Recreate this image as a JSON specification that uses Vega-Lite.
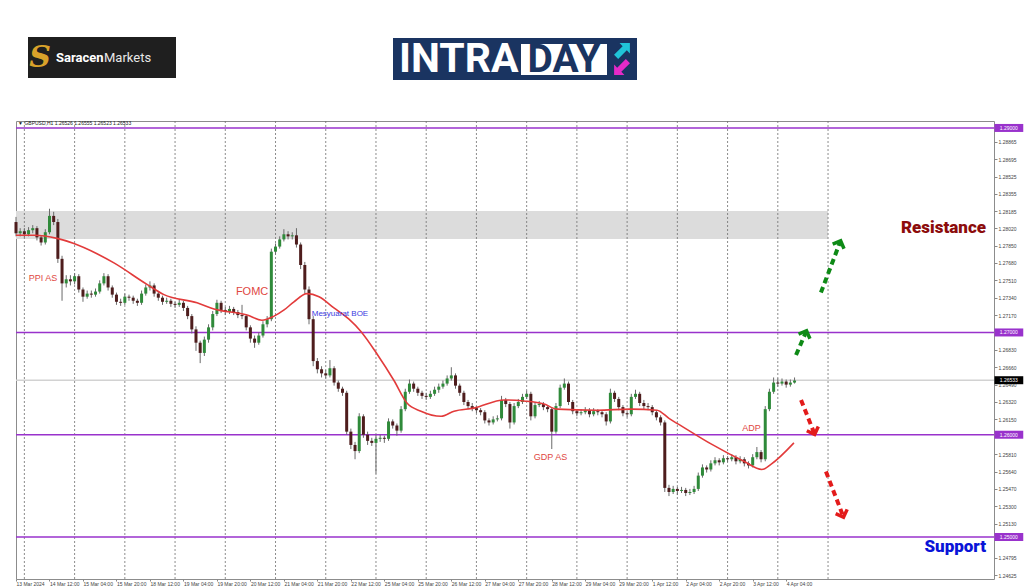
{
"$schema":"https://vega.github.io/schema/vega-lite/v6.json",
"background":"white",
"padding":{"left":12,"top":0,"right":0,"bottom":0},
"spacing":20,
"resolve":{"scale":{"color":"independent","fill":"independent","angle":"independent","x":"independent","y":"independent"}},
"config":{"text":{"font":"Liberation Sans"},"axis":{"grid":false,"domain":false,"labelOverlap":false,"labelSeparation":0,"labelFontSize":5,"labelFont":"Liberation Sans"}},
"datasets":{
"candles":[
{"i":0,"o":1.2808,"h":1.2813,"l":1.2794,"c":1.2797},
{"i":2,"o":1.2797,"h":1.2802,"l":1.2794,"c":1.2799},
{"i":4,"o":1.2799,"h":1.2802,"l":1.2793,"c":1.2796},
{"i":6,"o":1.2796,"h":1.2803,"l":1.2794,"c":1.2800},
{"i":8,"o":1.2800,"h":1.2805,"l":1.2797,"c":1.2802},
{"i":10,"o":1.2802,"h":1.2804,"l":1.2790,"c":1.2793},
{"i":12,"o":1.2793,"h":1.2795,"l":1.2785,"c":1.2788},
{"i":14,"o":1.2788,"h":1.2801,"l":1.2786,"c":1.2798},
{"i":16,"o":1.2798,"h":1.2821,"l":1.2796,"c":1.2814},
{"i":18,"o":1.2814,"h":1.2818,"l":1.2805,"c":1.2808},
{"i":20,"o":1.2808,"h":1.2811,"l":1.2768,"c":1.2772},
{"i":22,"o":1.2772,"h":1.2775,"l":1.2731,"c":1.2748},
{"i":24,"o":1.2748,"h":1.2756,"l":1.2744,"c":1.2752},
{"i":26,"o":1.2752,"h":1.2756,"l":1.2746,"c":1.2750},
{"i":28,"o":1.2750,"h":1.2758,"l":1.2747,"c":1.2755},
{"i":30,"o":1.2755,"h":1.2757,"l":1.2739,"c":1.2742},
{"i":32,"o":1.2742,"h":1.2744,"l":1.2730,"c":1.2735},
{"i":34,"o":1.2735,"h":1.2741,"l":1.2733,"c":1.2738},
{"i":36,"o":1.2738,"h":1.2741,"l":1.2734,"c":1.2737},
{"i":38,"o":1.2737,"h":1.2743,"l":1.2735,"c":1.2740},
{"i":40,"o":1.2740,"h":1.2751,"l":1.2738,"c":1.2748},
{"i":42,"o":1.2748,"h":1.2758,"l":1.2746,"c":1.2755},
{"i":44,"o":1.2755,"h":1.2757,"l":1.2741,"c":1.2744},
{"i":46,"o":1.2744,"h":1.2746,"l":1.2734,"c":1.2737},
{"i":48,"o":1.2737,"h":1.2739,"l":1.2727,"c":1.2730},
{"i":50,"o":1.2730,"h":1.2733,"l":1.2726,"c":1.2729},
{"i":52,"o":1.2729,"h":1.2738,"l":1.2727,"c":1.2735},
{"i":54,"o":1.2735,"h":1.2737,"l":1.2731,"c":1.2734},
{"i":56,"o":1.2734,"h":1.2736,"l":1.2728,"c":1.2731},
{"i":58,"o":1.2731,"h":1.2733,"l":1.2726,"c":1.2729},
{"i":60,"o":1.2729,"h":1.2741,"l":1.2727,"c":1.2738},
{"i":62,"o":1.2738,"h":1.2747,"l":1.2736,"c":1.2744},
{"i":64,"o":1.2744,"h":1.2750,"l":1.2741,"c":1.2746},
{"i":66,"o":1.2746,"h":1.2748,"l":1.2735,"c":1.2738},
{"i":68,"o":1.2738,"h":1.2740,"l":1.2731,"c":1.2734},
{"i":70,"o":1.2734,"h":1.2736,"l":1.2727,"c":1.2730},
{"i":72,"o":1.2730,"h":1.2734,"l":1.2728,"c":1.2731},
{"i":74,"o":1.2731,"h":1.2733,"l":1.2725,"c":1.2728},
{"i":76,"o":1.2728,"h":1.2730,"l":1.2724,"c":1.2727},
{"i":78,"o":1.2727,"h":1.2732,"l":1.2725,"c":1.2729},
{"i":80,"o":1.2729,"h":1.2731,"l":1.2721,"c":1.2724},
{"i":82,"o":1.2724,"h":1.2726,"l":1.2713,"c":1.2716},
{"i":84,"o":1.2716,"h":1.2718,"l":1.2699,"c":1.2703},
{"i":86,"o":1.2703,"h":1.2706,"l":1.2682,"c":1.2690},
{"i":88,"o":1.2690,"h":1.2692,"l":1.2670,"c":1.2680},
{"i":90,"o":1.2680,"h":1.2696,"l":1.2677,"c":1.2693},
{"i":92,"o":1.2693,"h":1.2708,"l":1.2690,"c":1.2705},
{"i":94,"o":1.2705,"h":1.2721,"l":1.2702,"c":1.2718},
{"i":96,"o":1.2718,"h":1.2732,"l":1.2716,"c":1.2729},
{"i":98,"o":1.2729,"h":1.2731,"l":1.2719,"c":1.2722},
{"i":100,"o":1.2722,"h":1.2725,"l":1.2717,"c":1.2720},
{"i":102,"o":1.2720,"h":1.2726,"l":1.2718,"c":1.2723},
{"i":104,"o":1.2723,"h":1.2725,"l":1.2717,"c":1.2720},
{"i":106,"o":1.2720,"h":1.2722,"l":1.2714,"c":1.2717},
{"i":108,"o":1.2717,"h":1.2727,"l":1.2713,"c":1.2716},
{"i":110,"o":1.2716,"h":1.2718,"l":1.2702,"c":1.2705},
{"i":112,"o":1.2705,"h":1.2707,"l":1.2690,"c":1.2694},
{"i":114,"o":1.2694,"h":1.2697,"l":1.2685,"c":1.2690},
{"i":116,"o":1.2690,"h":1.2700,"l":1.2688,"c":1.2697},
{"i":118,"o":1.2697,"h":1.2711,"l":1.2695,"c":1.2708},
{"i":120,"o":1.2708,"h":1.2716,"l":1.2705,"c":1.2713},
{"i":122,"o":1.2713,"h":1.2782,"l":1.2711,"c":1.2779},
{"i":124,"o":1.2779,"h":1.2787,"l":1.2776,"c":1.2784},
{"i":126,"o":1.2784,"h":1.2794,"l":1.2782,"c":1.2791},
{"i":128,"o":1.2791,"h":1.2801,"l":1.2789,"c":1.2796},
{"i":130,"o":1.2796,"h":1.2799,"l":1.2791,"c":1.2794},
{"i":132,"o":1.2794,"h":1.2798,"l":1.2791,"c":1.2795},
{"i":134,"o":1.2795,"h":1.2802,"l":1.2783,"c":1.2786},
{"i":136,"o":1.2786,"h":1.2788,"l":1.2762,"c":1.2766},
{"i":138,"o":1.2766,"h":1.2769,"l":1.2738,"c":1.2742},
{"i":140,"o":1.2742,"h":1.2745,"l":1.2708,"c":1.2713},
{"i":142,"o":1.2713,"h":1.2716,"l":1.2667,"c":1.2672},
{"i":144,"o":1.2672,"h":1.2675,"l":1.2660,"c":1.2664},
{"i":146,"o":1.2664,"h":1.2667,"l":1.2656,"c":1.2660},
{"i":148,"o":1.2660,"h":1.2663,"l":1.2655,"c":1.2658},
{"i":150,"o":1.2658,"h":1.2673,"l":1.2656,"c":1.2665},
{"i":152,"o":1.2665,"h":1.2667,"l":1.2648,"c":1.2651},
{"i":154,"o":1.2651,"h":1.2653,"l":1.2642,"c":1.2645},
{"i":156,"o":1.2645,"h":1.2647,"l":1.2638,"c":1.2641},
{"i":158,"o":1.2641,"h":1.2643,"l":1.2600,"c":1.2603},
{"i":160,"o":1.2603,"h":1.2606,"l":1.2586,"c":1.2590},
{"i":162,"o":1.2590,"h":1.2593,"l":1.2576,"c":1.2584},
{"i":164,"o":1.2584,"h":1.2621,"l":1.2582,"c":1.2618},
{"i":166,"o":1.2618,"h":1.2620,"l":1.2597,"c":1.2600},
{"i":168,"o":1.2600,"h":1.2603,"l":1.2590,"c":1.2594},
{"i":170,"o":1.2594,"h":1.2597,"l":1.2589,"c":1.2592},
{"i":172,"o":1.2592,"h":1.2600,"l":1.2562,"c":1.2596},
{"i":174,"o":1.2596,"h":1.2600,"l":1.2593,"c":1.2597},
{"i":176,"o":1.2597,"h":1.2599,"l":1.2592,"c":1.2596},
{"i":178,"o":1.2596,"h":1.2616,"l":1.2594,"c":1.2613},
{"i":180,"o":1.2613,"h":1.2615,"l":1.2606,"c":1.2609},
{"i":182,"o":1.2609,"h":1.2611,"l":1.2599,"c":1.2604},
{"i":184,"o":1.2604,"h":1.2628,"l":1.2602,"c":1.2625},
{"i":186,"o":1.2625,"h":1.2645,"l":1.2623,"c":1.2642},
{"i":188,"o":1.2642,"h":1.2654,"l":1.2640,"c":1.2650},
{"i":190,"o":1.2650,"h":1.2652,"l":1.2642,"c":1.2645},
{"i":192,"o":1.2645,"h":1.2647,"l":1.2638,"c":1.2641},
{"i":194,"o":1.2641,"h":1.2643,"l":1.2635,"c":1.2638},
{"i":196,"o":1.2638,"h":1.2641,"l":1.2634,"c":1.2637},
{"i":198,"o":1.2637,"h":1.2643,"l":1.2635,"c":1.2640},
{"i":200,"o":1.2640,"h":1.2647,"l":1.2638,"c":1.2644},
{"i":202,"o":1.2644,"h":1.2650,"l":1.2641,"c":1.2647},
{"i":204,"o":1.2647,"h":1.2653,"l":1.2645,"c":1.2650},
{"i":206,"o":1.2650,"h":1.2658,"l":1.2648,"c":1.2655},
{"i":208,"o":1.2655,"h":1.2666,"l":1.2653,"c":1.2658},
{"i":210,"o":1.2658,"h":1.2660,"l":1.2645,"c":1.2648},
{"i":212,"o":1.2648,"h":1.2650,"l":1.2638,"c":1.2641},
{"i":214,"o":1.2641,"h":1.2643,"l":1.2629,"c":1.2632},
{"i":216,"o":1.2632,"h":1.2634,"l":1.2625,"c":1.2628},
{"i":218,"o":1.2628,"h":1.2631,"l":1.2623,"c":1.2626},
{"i":220,"o":1.2626,"h":1.2628,"l":1.2621,"c":1.2624},
{"i":222,"o":1.2624,"h":1.2626,"l":1.2619,"c":1.2622},
{"i":224,"o":1.2622,"h":1.2624,"l":1.2611,"c":1.2614},
{"i":226,"o":1.2614,"h":1.2616,"l":1.2609,"c":1.2612},
{"i":228,"o":1.2612,"h":1.2618,"l":1.2610,"c":1.2615},
{"i":230,"o":1.2615,"h":1.2619,"l":1.2613,"c":1.2616},
{"i":232,"o":1.2616,"h":1.2638,"l":1.2614,"c":1.2634},
{"i":234,"o":1.2634,"h":1.2636,"l":1.2627,"c":1.2630},
{"i":236,"o":1.2630,"h":1.2632,"l":1.2606,"c":1.2612},
{"i":238,"o":1.2612,"h":1.2631,"l":1.2610,"c":1.2628},
{"i":240,"o":1.2628,"h":1.2635,"l":1.2626,"c":1.2632},
{"i":242,"o":1.2632,"h":1.2640,"l":1.2630,"c":1.2637},
{"i":244,"o":1.2637,"h":1.2643,"l":1.2635,"c":1.2640},
{"i":246,"o":1.2640,"h":1.2642,"l":1.2614,"c":1.2618},
{"i":248,"o":1.2618,"h":1.2632,"l":1.2616,"c":1.2629},
{"i":250,"o":1.2629,"h":1.2633,"l":1.2627,"c":1.2630},
{"i":252,"o":1.2630,"h":1.2632,"l":1.2624,"c":1.2627},
{"i":254,"o":1.2627,"h":1.2629,"l":1.2622,"c":1.2625},
{"i":256,"o":1.2625,"h":1.2627,"l":1.2586,"c":1.2603},
{"i":258,"o":1.2603,"h":1.2631,"l":1.2601,"c":1.2628},
{"i":260,"o":1.2628,"h":1.2649,"l":1.2626,"c":1.2646},
{"i":262,"o":1.2646,"h":1.2655,"l":1.2644,"c":1.2650},
{"i":264,"o":1.2650,"h":1.2652,"l":1.2629,"c":1.2632},
{"i":266,"o":1.2632,"h":1.2634,"l":1.2620,"c":1.2623},
{"i":268,"o":1.2623,"h":1.2625,"l":1.2618,"c":1.2621},
{"i":270,"o":1.2621,"h":1.2625,"l":1.2619,"c":1.2622},
{"i":272,"o":1.2622,"h":1.2627,"l":1.2620,"c":1.2624},
{"i":274,"o":1.2624,"h":1.2626,"l":1.2617,"c":1.2620},
{"i":276,"o":1.2620,"h":1.2626,"l":1.2618,"c":1.2623},
{"i":278,"o":1.2623,"h":1.2625,"l":1.2619,"c":1.2622},
{"i":280,"o":1.2622,"h":1.2624,"l":1.2617,"c":1.2620},
{"i":282,"o":1.2620,"h":1.2622,"l":1.2609,"c":1.2613},
{"i":284,"o":1.2613,"h":1.2645,"l":1.2611,"c":1.2641},
{"i":286,"o":1.2641,"h":1.2643,"l":1.2632,"c":1.2635},
{"i":288,"o":1.2635,"h":1.2637,"l":1.2624,"c":1.2627},
{"i":290,"o":1.2627,"h":1.2629,"l":1.2618,"c":1.2621},
{"i":292,"o":1.2621,"h":1.2623,"l":1.2617,"c":1.2620},
{"i":294,"o":1.2620,"h":1.2640,"l":1.2618,"c":1.2637},
{"i":296,"o":1.2637,"h":1.2644,"l":1.2635,"c":1.2640},
{"i":298,"o":1.2640,"h":1.2642,"l":1.2628,"c":1.2631},
{"i":300,"o":1.2631,"h":1.2634,"l":1.2625,"c":1.2628},
{"i":302,"o":1.2628,"h":1.2631,"l":1.2624,"c":1.2627},
{"i":304,"o":1.2627,"h":1.2629,"l":1.2619,"c":1.2622},
{"i":306,"o":1.2622,"h":1.2624,"l":1.2614,"c":1.2617},
{"i":308,"o":1.2617,"h":1.2619,"l":1.2609,"c":1.2612},
{"i":310,"o":1.2612,"h":1.2614,"l":1.2544,"c":1.2548},
{"i":312,"o":1.2548,"h":1.2551,"l":1.2540,"c":1.2544},
{"i":314,"o":1.2544,"h":1.2550,"l":1.2542,"c":1.2547},
{"i":316,"o":1.2547,"h":1.2549,"l":1.2541,"c":1.2545},
{"i":318,"o":1.2545,"h":1.2549,"l":1.2543,"c":1.2546},
{"i":320,"o":1.2546,"h":1.2548,"l":1.2540,"c":1.2543},
{"i":322,"o":1.2543,"h":1.2547,"l":1.2541,"c":1.2544},
{"i":324,"o":1.2544,"h":1.2550,"l":1.2542,"c":1.2547},
{"i":326,"o":1.2547,"h":1.2563,"l":1.2545,"c":1.2560},
{"i":328,"o":1.2560,"h":1.2571,"l":1.2558,"c":1.2568},
{"i":330,"o":1.2568,"h":1.2570,"l":1.2563,"c":1.2566},
{"i":332,"o":1.2566,"h":1.2575,"l":1.2564,"c":1.2572},
{"i":334,"o":1.2572,"h":1.2578,"l":1.2570,"c":1.2575},
{"i":336,"o":1.2575,"h":1.2577,"l":1.2570,"c":1.2573},
{"i":338,"o":1.2573,"h":1.2580,"l":1.2571,"c":1.2577},
{"i":340,"o":1.2577,"h":1.2579,"l":1.2573,"c":1.2576},
{"i":342,"o":1.2576,"h":1.2581,"l":1.2574,"c":1.2578},
{"i":344,"o":1.2578,"h":1.2580,"l":1.2571,"c":1.2574},
{"i":346,"o":1.2574,"h":1.2579,"l":1.2572,"c":1.2576},
{"i":348,"o":1.2576,"h":1.2578,"l":1.2569,"c":1.2572},
{"i":350,"o":1.2572,"h":1.2574,"l":1.2567,"c":1.2570},
{"i":352,"o":1.2570,"h":1.2581,"l":1.2568,"c":1.2578},
{"i":354,"o":1.2578,"h":1.2588,"l":1.2576,"c":1.2583},
{"i":356,"o":1.2583,"h":1.2585,"l":1.2573,"c":1.2576},
{"i":358,"o":1.2576,"h":1.2628,"l":1.2574,"c":1.2625},
{"i":360,"o":1.2625,"h":1.2645,"l":1.2623,"c":1.2642},
{"i":362,"o":1.2642,"h":1.2656,"l":1.2640,"c":1.2651},
{"i":364,"o":1.2651,"h":1.2655,"l":1.2647,"c":1.2650},
{"i":366,"o":1.2650,"h":1.2655,"l":1.2648,"c":1.2652},
{"i":368,"o":1.2652,"h":1.2654,"l":1.2646,"c":1.2649},
{"i":370,"o":1.2649,"h":1.2654,"l":1.2647,"c":1.2651},
{"i":372,"o":1.2651,"h":1.2656,"l":1.2650,"c":1.2653}
],
"ma":[
{"i":0,"p":1.2795},{"i":8.6,"p":1.2795},{"i":19.6,"p":1.2792},{"i":27.7,"p":1.2787},{"i":38.7,"p":1.2777},{"i":46.8,"p":1.2768},{"i":62.6,"p":1.2747},{"i":70.7,"p":1.2737},{"i":86.5,"p":1.2729},{"i":94.6,"p":1.2723},{"i":110.4,"p":1.2717},{"i":117.5,"p":1.2712},{"i":123.3,"p":1.2716},{"i":128.1,"p":1.2722},{"i":132.8,"p":1.2730},{"i":139.0,"p":1.2738},{"i":144.8,"p":1.2735},{"i":151.9,"p":1.2724},{"i":159.1,"p":1.2713},{"i":164.8,"p":1.2701},{"i":172.5,"p":1.2679},{"i":180.6,"p":1.2653},{"i":186.8,"p":1.2631},{"i":193.5,"p":1.2623},{"i":203.1,"p":1.2618},{"i":209.3,"p":1.2623},{"i":218.8,"p":1.2626},{"i":233.2,"p":1.2634},{"i":242.7,"p":1.2633},{"i":252.3,"p":1.2630},{"i":258.5,"p":1.2625},{"i":277.6,"p":1.2624},{"i":293.8,"p":1.2625},{"i":306.3,"p":1.2624},{"i":312.0,"p":1.2616},{"i":319.2,"p":1.2607},{"i":332.1,"p":1.2591},{"i":347.8,"p":1.2574},{"i":356.4,"p":1.2566},{"i":360.7,"p":1.2571},{"i":371.7,"p":1.2592}
],
"days":[{"i":4},{"i":28},{"i":52},{"i":76},{"i":100},{"i":124},{"i":148},{"i":172},{"i":196},{"i":220},{"i":244},{"i":268},{"i":292},{"i":316},{"i":340},{"i":364},{"i":388}],
"zone":[{"i1":0,"i2":388,"p1":1.27914,"p2":1.28188}],
"levels":[
{"p":1.29,"kind":"level","label":"1.29000"},
{"p":1.27,"kind":"level","label":"1.27000"},
{"p":1.26,"kind":"level","label":"1.26000"},
{"p":1.25,"kind":"level","label":"1.25000"},
{"p":1.26533,"kind":"price","label":"1.26533"}
],
"arrows":[
{"id":"g1","dir":"up","i":372.7,"p":1.2678,"tip":false},{"id":"g1","dir":"up","i":377.4,"p":1.2700,"tip":true},
{"id":"g2","dir":"up","i":384.6,"p":1.2739,"tip":false},{"id":"g2","dir":"up","i":393.7,"p":1.2788,"tip":true},
{"id":"r1","dir":"down","i":375.1,"p":1.2634,"tip":false},{"id":"r1","dir":"down","i":381.3,"p":1.2602,"tip":true},
{"id":"r2","dir":"down","i":387.0,"p":1.2564,"tip":false},{"id":"r2","dir":"down","i":395.1,"p":1.2521,"tip":true}
],
"events":[
{"i":12.9,"p":1.2753,"label":"PPI AS"},
{"i":112.8,"p":1.2740,"label":"FOMC"},
{"i":154.8,"p":1.2718,"label":"Mesyuarat BOE"},
{"i":255.4,"p":1.2578,"label":"GDP AS"},
{"i":351.4,"p":1.2607,"label":"ADP"}
],
"zones":[
{"i":463.5,"p":1.2802,"label":"Resistance"},
{"i":463.5,"p":1.2490,"label":"Support"}
],
"header":[{"i":1,"p":1.29045,"label":"▼ GBPUSD,H1  1.26526 1.26555 1.26523 1.26533"}]
},
"vconcat":[
{
"width":978,"height":100,
"view":{"stroke":null},
"layer":[
{"data":{"values":[{"part":"saracen","x1":12,"x2":160,"y1":37,"y2":78},{"part":"intraday","x1":377,"x2":621,"y1":38,"y2":80},{"part":"daybox","x1":505,"x2":591,"y1":44,"y2":75}]},
"mark":{"type":"rect"},
"encoding":{
"x":{"field":"x1","type":"quantitative","scale":{"domain":[0,978],"nice":false,"zero":false},"axis":null},
"x2":{"field":"x2"},
"y":{"field":"y1","type":"quantitative","scale":{"domain":[0,100],"reverse":true,"nice":false,"zero":false},"axis":null},
"y2":{"field":"y2"},
"color":{"field":"part","type":"nominal","scale":{"domain":["saracen","intraday","daybox"],"range":["#1f1f1f","#1a3461","#ffffff"]},"legend":null}}},
{"data":{"values":[{"x":24,"y":58,"t":"S"}]},
"mark":{"type":"text","font":"DejaVu Serif","fontWeight":"bold","fontStyle":"italic","fontSize":30,"color":"#d9a22a","align":"center","baseline":"middle"},
"encoding":{"x":{"field":"x","type":"quantitative","scale":{"domain":[0,978],"nice":false,"zero":false},"axis":null},"y":{"field":"y","type":"quantitative","scale":{"domain":[0,100],"reverse":true,"nice":false,"zero":false},"axis":null},"text":{"field":"t"}}},
{"data":{"values":[{"x":40,"y":58,"t":"Saracen"}]},
"mark":{"type":"text","font":"Roboto","fontWeight":"bold","fontSize":13,"color":"#ffffff","align":"left","baseline":"middle"},
"encoding":{"x":{"field":"x","type":"quantitative","scale":{"domain":[0,978],"nice":false,"zero":false},"axis":null},"y":{"field":"y","type":"quantitative","scale":{"domain":[0,100],"reverse":true,"nice":false,"zero":false},"axis":null},"text":{"field":"t"}}},
{"data":{"values":[{"x":88,"y":58,"t":"Markets"}]},
"mark":{"type":"text","font":"Roboto","fontWeight":"normal","fontSize":13,"color":"#e8e8e8","align":"left","baseline":"middle"},
"encoding":{"x":{"field":"x","type":"quantitative","scale":{"domain":[0,978],"nice":false,"zero":false},"axis":null},"y":{"field":"y","type":"quantitative","scale":{"domain":[0,100],"reverse":true,"nice":false,"zero":false},"axis":null},"text":{"field":"t"}}},
{"data":{"values":[{"x":383,"y":60,"t":"INTRA"}]},
"mark":{"type":"text","font":"Roboto","fontWeight":"bold","fontSize":41,"color":"#ffffff","align":"left","baseline":"middle"},
"encoding":{"x":{"field":"x","type":"quantitative","scale":{"domain":[0,978],"nice":false,"zero":false},"axis":null},"y":{"field":"y","type":"quantitative","scale":{"domain":[0,100],"reverse":true,"nice":false,"zero":false},"axis":null},"text":{"field":"t"}}},
{"data":{"values":[{"x":548,"y":60,"t":"DAY"}]},
"mark":{"type":"text","font":"Roboto","fontWeight":"bold","fontSize":39,"color":"#1a3461","align":"center","baseline":"middle"},
"encoding":{"x":{"field":"x","type":"quantitative","scale":{"domain":[0,978],"nice":false,"zero":false},"axis":null},"y":{"field":"y","type":"quantitative","scale":{"domain":[0,100],"reverse":true,"nice":false,"zero":false},"axis":null},"text":{"field":"t"}}},
{"data":{"values":[{"x":607,"y":50,"icon":"up"},{"x":605,"y":68,"icon":"down"}]},
"mark":{"type":"point","shape":"M0,-1L0.75,-0.25L0.3,-0.25L0.3,1L-0.3,1L-0.3,-0.25L-0.75,-0.25Z","filled":true,"opacity":1,"size":380,"strokeWidth":0},
"encoding":{"x":{"field":"x","type":"quantitative","scale":{"domain":[0,978],"nice":false,"zero":false},"axis":null},"y":{"field":"y","type":"quantitative","scale":{"domain":[0,100],"reverse":true,"nice":false,"zero":false},"axis":null},
"angle":{"field":"icon","type":"nominal","scale":{"domain":["up","down"],"range":[45,225]},"legend":null},
"fill":{"field":"icon","type":"nominal","scale":{"domain":["up","down"],"range":["#20c4d8","#e52ac8"]},"legend":null}}}
]
},
{
"width":978,"height":458,
"view":{"stroke":"#8c8c8c","strokeWidth":1},
"layer":[
{"data":{"name":"zone"},"mark":{"type":"rect","color":"#dcdcdc"},
"encoding":{"x":{"field":"i1","type":"quantitative","title":null,"scale":{"domain":[0,467.3],"nice":false,"zero":false,"padding":0}},"x2":{"field":"i2"},"y":{"field":"p1","type":"quantitative","title":null,"scale":{"domain":[1.24589,1.29068],"nice":false,"zero":false,"padding":0}},"y2":{"field":"p2"}}},
{"data":{"name":"days"},"mark":{"type":"rule","color":"#6e6e6e","strokeWidth":0.8,"strokeDash":[2,2]},
"encoding":{"x":{"field":"i","type":"quantitative","title":null,"scale":{"domain":[0,467.3],"nice":false,"zero":false,"padding":0}}}},
{"data":{"name":"levels"},"mark":{"type":"rule","strokeWidth":1.5},
"encoding":{"y":{"field":"p","type":"quantitative","title":null,"scale":{"domain":[1.24589,1.29068],"nice":false,"zero":false,"padding":0}},
"color":{"condition":{"test":"datum.kind==='price'","value":"#d2d2d2"},"value":"#9932cc"}}},
{"data":{"name":"candles"},"mark":{"type":"rule","strokeWidth":1,"color":"#6a6a6a"},
"encoding":{
"x":{"field":"i","type":"quantitative","title":null,"scale":{"domain":[0,467.3],"nice":false,"zero":false,"padding":0},
"axis":{"orient":"bottom","values":[0,16,32,48,64,80,96,112,128,144,160,176,192,208,224,240,256,272,288,304,320,336,352,368],"tickCount":100,
"labelExpr":"['13 Mar 2024','14 Mar 12:00','15 Mar 04:00','15 Mar 20:00','18 Mar 12:00','19 Mar 04:00','19 Mar 20:00','20 Mar 12:00','21 Mar 04:00','21 Mar 20:00','22 Mar 12:00','25 Mar 04:00','25 Mar 20:00','26 Mar 12:00','27 Mar 04:00','27 Mar 20:00','28 Mar 12:00','29 Mar 04:00','29 Mar 20:00','1 Apr 12:00','2 Apr 04:00','2 Apr 20:00','3 Apr 12:00','4 Apr 04:00'][round(datum.value/16)]",
"labelAlign":"left","labelPadding":0,"tickSize":2,"labelFont":"Liberation Sans","labelFontSize":5,"labelColor":"#444444","tickColor":"#888888","domain":false,"grid":false,"title":null,"labelOverlap":false}},
"y":{"field":"l","type":"quantitative","title":null,"scale":{"domain":[1.24589,1.29068],"nice":false,"zero":false,"padding":0},
"axis":{"orient":"right","values":[1.24625,1.24795,1.2513,1.253,1.2547,1.2564,1.2581,1.2615,1.2632,1.2649,1.2666,1.2683,1.2717,1.2734,1.2751,1.2768,1.2785,1.2802,1.28185,1.28355,1.28525,1.28695,1.28865],"tickCount":100,
"format":".5f","labelPadding":1,"tickSize":3,"labelFont":"Liberation Sans","labelFontSize":5,"labelColor":"#444444","tickColor":"#888888","domain":false,"grid":false,"title":null,"labelOverlap":false,"labelSeparation":0}},
"y2":{"field":"h"}}},
{"data":{"name":"candles"},"mark":{"type":"bar","size":3},
"encoding":{"x":{"field":"i","type":"quantitative","title":null,"scale":{"domain":[0,467.3],"nice":false,"zero":false,"padding":0}},
"y":{"field":"o","type":"quantitative","title":null,"scale":{"domain":[1.24589,1.29068],"nice":false,"zero":false,"padding":0}},
"y2":{"field":"c"},
"color":{"condition":{"test":"datum.c >= datum.o","value":"#2f8a3a"},"value":"#4e1d1d"}}},
{"data":{"name":"ma"},"mark":{"type":"line","color":"#e23b3b","strokeWidth":1.6,"interpolate":"monotone"},
"encoding":{"x":{"field":"i","type":"quantitative","title":null,"scale":{"domain":[0,467.3],"nice":false,"zero":false,"padding":0}},
"y":{"field":"p","type":"quantitative","title":null,"scale":{"domain":[1.24589,1.29068],"nice":false,"zero":false,"padding":0}}}},
{"data":{"name":"events"},"mark":{"type":"text","font":"Liberation Sans","align":"center","baseline":"middle"},
"encoding":{"x":{"field":"i","type":"quantitative","title":null,"scale":{"domain":[0,467.3],"nice":false,"zero":false,"padding":0}},
"y":{"field":"p","type":"quantitative","title":null,"scale":{"domain":[1.24589,1.29068],"nice":false,"zero":false,"padding":0}},
"text":{"field":"label"},
"color":{"condition":{"test":"datum.label==='Mesyuarat BOE'","value":"#3a3ae0"},"value":"#e0473f"},
"size":{"condition":[{"test":"datum.label==='FOMC'","value":11},{"test":"datum.label==='Mesyuarat BOE'","value":8}],"value":9}}},
{"data":{"name":"arrows"},"mark":{"type":"line","strokeWidth":4,"strokeDash":[6,4],"strokeCap":"butt"},
"encoding":{"x":{"field":"i","type":"quantitative","title":null,"scale":{"domain":[0,467.3],"nice":false,"zero":false,"padding":0}},
"y":{"field":"p","type":"quantitative","title":null,"scale":{"domain":[1.24589,1.29068],"nice":false,"zero":false,"padding":0}},
"detail":{"field":"id"},
"color":{"field":"dir","type":"nominal","scale":{"domain":["up","down"],"range":["#0e8a16","#e31b1b"]},"legend":null}}},
{"data":{"name":"arrows"},"transform":[{"filter":"datum.tip"}],
"mark":{"type":"point","shape":"M-1,0.7L0,-0.3L1,0.7","filled":false,"opacity":1,"strokeWidth":3.5,"size":150},
"encoding":{"x":{"field":"i","type":"quantitative","title":null,"scale":{"domain":[0,467.3],"nice":false,"zero":false,"padding":0}},
"y":{"field":"p","type":"quantitative","title":null,"scale":{"domain":[1.24589,1.29068],"nice":false,"zero":false,"padding":0}},
"angle":{"field":"dir","type":"nominal","scale":{"domain":["up","down"],"range":[22,160]},"legend":null},
"color":{"field":"dir","type":"nominal","scale":{"domain":["up","down"],"range":["#0e8a16","#e31b1b"]},"legend":null}}},
{"data":{"name":"zones"},"mark":{"type":"text","font":"Roboto","fontWeight":900,"fontSize":17,"align":"right","baseline":"middle"},
"encoding":{"x":{"field":"i","type":"quantitative","title":null,"scale":{"domain":[0,467.3],"nice":false,"zero":false,"padding":0}},
"y":{"field":"p","type":"quantitative","title":null,"scale":{"domain":[1.24589,1.29068],"nice":false,"zero":false,"padding":0}},
"text":{"field":"label"},
"color":{"condition":{"test":"datum.label==='Support'","value":"#0a14d8"},"value":"#8c0c0c"}}},
{"data":{"name":"levels"},"mark":{"type":"point","shape":"M-3.6,-1L3.6,-1L3.6,1L-3.6,1Z","filled":true,"opacity":1,"size":64,"strokeWidth":0},
"encoding":{"x":{"datum":474.4,"type":"quantitative","title":null,"scale":{"domain":[0,467.3],"nice":false,"zero":false,"padding":0}},
"y":{"field":"p","type":"quantitative","title":null,"scale":{"domain":[1.24589,1.29068],"nice":false,"zero":false,"padding":0}},
"fill":{"condition":{"test":"datum.kind==='price'","value":"#000000"},"value":"#9932cc"}}},
{"data":{"name":"levels"},"mark":{"type":"text","font":"Liberation Sans","fontSize":5,"color":"#ffffff","align":"center","baseline":"middle"},
"encoding":{"x":{"datum":474.4,"type":"quantitative","title":null,"scale":{"domain":[0,467.3],"nice":false,"zero":false,"padding":0}},
"y":{"field":"p","type":"quantitative","title":null,"scale":{"domain":[1.24589,1.29068],"nice":false,"zero":false,"padding":0}},
"text":{"field":"label"}}},
{"data":{"name":"header"},"mark":{"type":"text","font":"Liberation Sans","fontSize":5,"color":"#222222","align":"left","baseline":"middle"},
"encoding":{"x":{"field":"i","type":"quantitative","title":null,"scale":{"domain":[0,467.3],"nice":false,"zero":false,"padding":0}},
"y":{"field":"p","type":"quantitative","title":null,"scale":{"domain":[1.24589,1.29068],"nice":false,"zero":false,"padding":0}},
"text":{"field":"label"}}}
]
}
]
}
